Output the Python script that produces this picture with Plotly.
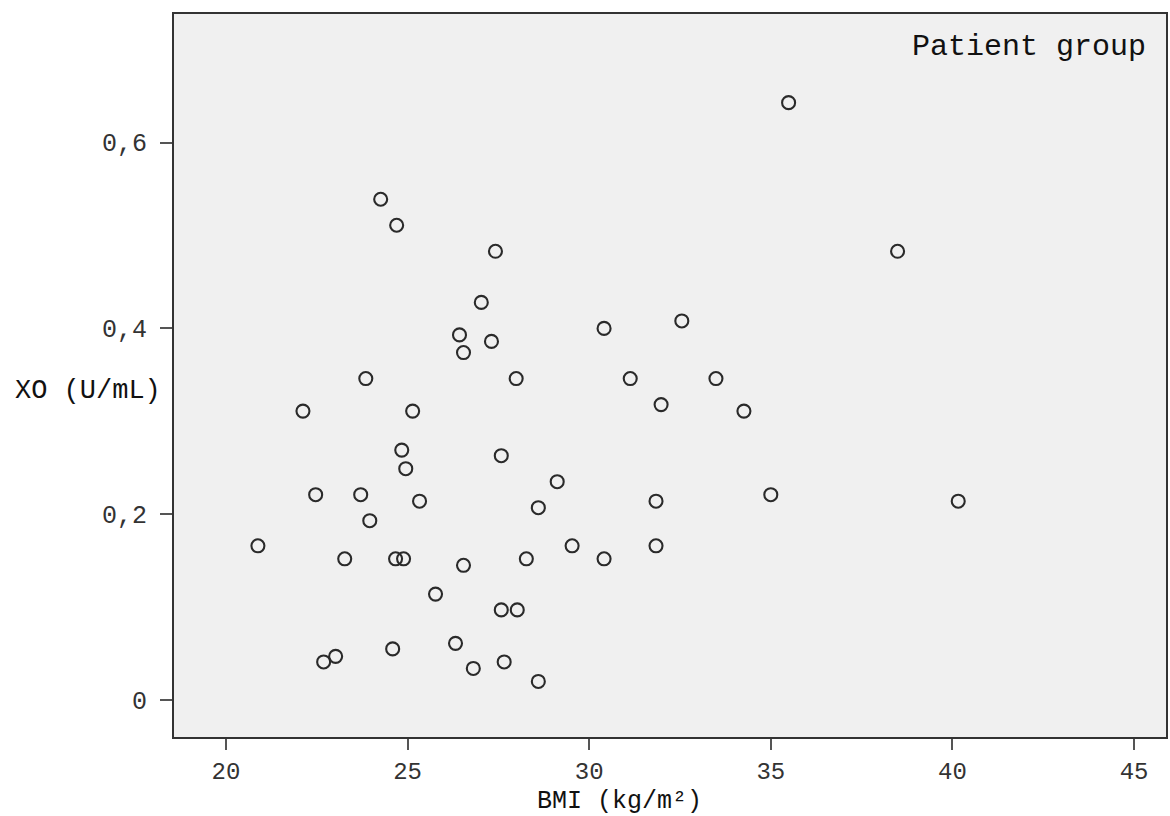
import plotly.graph_objects as go

bmi = [35.49, 24.26, 24.70, 27.42, 38.49, 27.03, 26.43, 30.41, 32.55, 27.31,
       26.54, 23.85, 27.99, 31.13, 33.49, 22.12, 25.14, 31.98, 34.26, 24.84,
       24.95, 27.58, 29.12, 22.47, 23.71, 25.33, 31.84, 35.00, 40.16, 28.60,
       23.96, 20.88, 29.53, 31.84, 23.27, 24.67, 24.89, 28.27, 30.41, 26.54,
       25.77, 27.58, 28.02, 26.32, 24.59, 23.02, 22.69, 27.66, 26.81, 28.60]
xo = [0.643, 0.539, 0.511, 0.483, 0.483, 0.428, 0.393, 0.400, 0.408, 0.386,
      0.374, 0.346, 0.346, 0.346, 0.346, 0.311, 0.311, 0.318, 0.311, 0.269,
      0.249, 0.263, 0.235, 0.221, 0.221, 0.214, 0.214, 0.221, 0.214, 0.207,
      0.193, 0.166, 0.166, 0.166, 0.152, 0.152, 0.152, 0.152, 0.152, 0.145,
      0.114, 0.097, 0.097, 0.061, 0.055, 0.047, 0.041, 0.041, 0.034, 0.020]

x_ticks = [20, 25, 30, 35, 40, 45]
x_ticklabels = ["20", "25", "30", "35", "40", "45"]
y_ticks = [0, 0.2, 0.4, 0.6]
y_ticklabels = ["0", "0,2", "0,4", "0,6"]

FONT = "Liberation Mono, Courier New, monospace"

fig = go.Figure(go.Scatter(
    x=bmi, y=xo, mode="markers",
    marker=dict(symbol="circle-open", size=13, color="#2a2a2a",
                line=dict(width=2.1, color="#2a2a2a")),
    showlegend=False,
))

fig.update_layout(
    width=1170, height=816,
    margin=dict(l=174, r=2, t=14, b=79),
    paper_bgcolor="white", plot_bgcolor="#f0f0f0",
    font=dict(family=FONT, color="#333333", size=24),
    xaxis=dict(range=[18.57, 45.88], tickvals=x_ticks, ticktext=x_ticklabels,
               showgrid=False, zeroline=False, showline=True, mirror=True,
               linecolor="#333333", linewidth=2, ticks="outside", ticklen=11,
               tickwidth=2, tickcolor="#555555",
               tickfont=dict(family=FONT, size=24, color="#333333")),
    yaxis=dict(range=[-0.0398, 0.7384], tickvals=y_ticks, ticktext=y_ticklabels,
               showgrid=False, zeroline=False, showline=True, mirror=True,
               linecolor="#333333", linewidth=2, ticks="outside", ticklen=12,
               tickwidth=2, tickcolor="#555555", ticklabelstandoff=8,
               tickfont=dict(family=FONT, size=25, color="#333333")),
    annotations=[
        dict(text="Patient group", xref="paper", yref="paper", x=0.982, y=0.954,
             xanchor="right", yanchor="middle", showarrow=False,
             font=dict(family=FONT, size=30, color="#111111")),
        dict(text="XO (U/mL)", xref="paper", yref="paper", x=-0.162, y=0.4786,
             xanchor="left", yanchor="middle", showarrow=False,
             font=dict(family=FONT, size=27, color="#111111")),
        dict(text="BMI (kg/m²)", xref="paper", yref="paper", x=0.4487, y=-0.0899,
             xanchor="center", yanchor="middle", showarrow=False,
             font=dict(family=FONT, size=25, color="#111111")),
    ],
)

fig.write_html("out.html", config={"displayModeBar": False},
               post_script="document.body.style.margin='0px';document.body.style.overflow='hidden';")
